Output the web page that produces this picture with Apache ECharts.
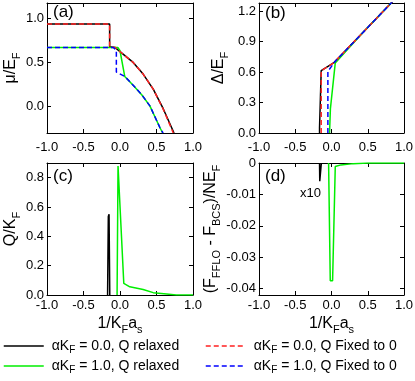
<!DOCTYPE html>
<html>
<head>
<meta charset="utf-8">
<script src="https://cdn.jsdelivr.net/npm/echarts@6/dist/echarts.min.js"></script>
<style>
  html, body { margin: 0; padding: 0; background: #fff; }
  #chart { width: 415px; height: 381px; }
</style>
</head>
<body>
<div id="chart"></div>
<script>
// tick values
const xTicks = [-1, -0.5, 0, 0.5, 1];
const muTicks = [0, 0.5, 1];
const gapTicks = [0, 0.3, 0.6, 0.9, 1.2];
const qTicks = [0, 0.2, 0.4, 0.6, 0.8];
const freeTicks = [0, -0.01, -0.02, -0.03, -0.04];

// (a) chemical potential mu/E_F
const muA0Relaxed = [[-1, 0.932], [-0.142, 0.932], [-0.142, 0.675], [-0.07, 0.668], [0.042, 0.592], [0.18, 0.498], [0.317, 0.366], [0.455, 0.196], [0.592, -0.025], [0.74, -0.3]];
const muA1Relaxed = [[-1, 0.668], [-0.03, 0.668], [0.0, 0.63], [0.065, 0.34], [0.18, 0.241], [0.3, 0.13], [0.409, 0.007], [0.546, -0.238], [0.585, -0.3]];
const muA0Fixed = [[-1, 0.932], [-0.142, 0.932], [-0.142, 0.675], [-0.07, 0.668], [0.042, 0.592], [0.18, 0.498], [0.317, 0.366], [0.455, 0.196], [0.592, -0.03], [0.73, -0.3]];
const muA1Fixed = [[-1, 0.668], [-0.09, 0.668], [-0.05, 0.63], [-0.05, 0.39], [0.065, 0.34], [0.18, 0.241], [0.3, 0.13], [0.409, 0.007], [0.546, -0.238], [0.59, -0.3]];

// (b) gap Delta/E_F
const gapA0Relaxed = [[-0.165, 0], [-0.165, 0.055], [-0.142, 0.055], [-0.142, 0.614], [0.029, 0.69], [0.43, 0.987], [0.85, 1.3]];
const gapA1Relaxed = [[-0.027, 0], [-0.015, 0.24], [0.052, 0.69], [0.43, 0.987], [0.85, 1.3]];
const gapA0Fixed = [[-0.142, 0], [-0.142, 0.614], [0.029, 0.69], [0.43, 0.987], [0.85, 1.3]];
const gapA1Fixed = [[-0.05, 0], [-0.05, 0.607], [0.052, 0.706], [0.43, 0.987], [0.85, 1.3]];

// (c) FFLO momentum Q/K_F
const qA0Relaxed = [[-0.17, 0], [-0.16, 0.535], [-0.15, 0.55], [-0.14, 0]];
const qA1Relaxed = [[-0.04, 0], [-0.027, 0.88], [-0.003, 0.88], [0.052, 0.079], [0.134, 0.056], [0.317, 0.038], [0.455, 0.016], [0.638, 0.007], [0.77, 0], [1.0, 0]];

// (d) free energy difference (black one is x10)
const freeA0Relaxed = [[-0.165, 0], [-0.162, -0.0058], [-0.142, -0.0058], [-0.14, 0]];
const freeA1Relaxed = [[-0.04, 0], [-0.017, -0.0375], [0.015, -0.0375], [0.052, -0.0011], [0.13, -0.0006], [0.3, -0.0002], [0.5, 0], [1.0, 0]];

const FONT = '"Liberation Sans", Arial, sans-serif';
const legendText = {
    a0r: '{n|αK}{s|F}{n| = 0.0, Q relaxed}',
    a1r: '{n|αK}{s|F}{n| = 1.0, Q relaxed}',
    a0f: '{n|αK}{s|F}{n| = 0.0, Q Fixed to 0}',
    a1f: '{n|αK}{s|F}{n| = 1.0, Q Fixed to 0}'
};

const chart = echarts.init(document.getElementById('chart'));

const nameRich = {
    n: { fontSize: 16, fontFamily: FONT, color: '#000', lineHeight: 22 },
    s: { fontSize: 11, fontFamily: FONT, color: '#000', lineHeight: 22, verticalAlign: 'bottom' }
};

const grids = [
    { left: 47, top: 3, width: 146, height: 130 },
    { left: 259, top: 3, width: 145, height: 130 },
    { left: 47, top: 163, width: 146, height: 132 },
    { left: 259, top: 163, width: 145, height: 132 }
];

const fmt1 = v => v.toFixed(1);
const fmtFree = v => (v === 0 ? '0' : v.toFixed(2));

// bottom + top (mirror) x axes per grid
const makeX = (gi, name, margin) => {
    const base = {
        type: 'value', gridIndex: gi, min: -1, max: 1,
        splitLine: { show: false },
        axisLine: { onZero: false, lineStyle: { color: '#000', width: 1 } },
        axisTick: { inside: true, length: 4, customValues: xTicks, lineStyle: { color: '#000' } }
    };
    return [
        Object.assign({}, base, {
            position: 'bottom',
            axisLabel: { customValues: xTicks, formatter: fmt1, color: '#000', fontSize: 13, fontFamily: FONT, margin: margin },
            name: name || '', nameLocation: 'middle', nameGap: 18,
            nameTextStyle: { rich: nameRich }
        }),
        Object.assign({}, base, { position: 'top', axisLabel: { show: false } })
    ];
};

const makeY = (gi, min, max, ticks, fmt, name, gap) => {
    const base = {
        type: 'value', gridIndex: gi, min: min, max: max,
        splitLine: { show: false },
        axisLine: { show: true, onZero: false, lineStyle: { color: '#000', width: 1 } },
        axisTick: { show: true, inside: true, length: 4, customValues: ticks, lineStyle: { color: '#000' } }
    };
    return [
        Object.assign({}, base, {
            position: 'left',
            axisLabel: { customValues: ticks, formatter: fmt, color: '#000', fontSize: 13, fontFamily: FONT, margin: 3 },
            name: name, nameLocation: 'middle', nameGap: gap,
            nameTextStyle: { rich: nameRich }
        }),
        Object.assign({}, base, { position: 'right', axisLabel: { show: false } })
    ];
};

const colors = { a0r: '#000000', a1r: '#00ee00', a0f: '#ff2020', a1f: '#0000ff' };
const line = (key, gi, data) => ({
    name: key, type: 'line', xAxisIndex: gi * 2, yAxisIndex: gi * 2,
    data: data, symbol: 'none', silent: true,
    lineStyle: { color: colors[key], width: 1.5, type: key.endsWith('f') ? [5, 3] : 'solid' },
    itemStyle: { color: colors[key] }
});

const legendBase = {
    orient: 'vertical', itemWidth: 40, itemHeight: 14, itemGap: 4,
    height: 44, padding: 0,
    formatter: n => legendText[n],
    itemStyle: { opacity: 0 },
    lineStyle: { width: 1.5 },
    textStyle: {
        padding: [0, 0, 0, 3],
        rich: {
            n: { fontSize: 14, fontFamily: FONT, color: '#000', lineHeight: 18 },
            s: { fontSize: 10, fontFamily: FONT, color: '#000', lineHeight: 18, verticalAlign: 'bottom' }
        }
    },
    selectedMode: false
};

const option = {
    animation: false,
    backgroundColor: '#fff',
    grid: grids.map(g => Object.assign({ outerBoundsMode: 'none', containLabel: false }, g)),
    xAxis: [].concat(makeX(0, '', 8), makeX(1, '', 8), makeX(2, '{n|1/K}{s|F}{n|a}{s|s}', 4), makeX(3, '{n|1/K}{s|F}{n|a}{s|s}', 4)),
    yAxis: [].concat(
        makeY(0, -0.3, 1.17, muTicks, fmt1, '{n|μ/E}{s|F}', 25),
        makeY(1, 0, 1.28, gapTicks, fmt1, '{n|Δ/E}{s|F}', 29),
        makeY(2, 0, 0.9, qTicks, fmt1, '{n|Q/K}{s|F}', 24),
        makeY(3, -0.042, 0, freeTicks, fmtFree, '{n|(F}{s|FFLO}{n| - F}{s|BCS}{n|)/NE}{s|F}', 37)
    ),
    legend: [
        Object.assign({}, legendBase, { left: 3, top: 339, data: ['a0r', 'a1r'] }),
        Object.assign({}, legendBase, { left: 205, top: 339, data: ['a0f', 'a1f'] })
    ],
    graphic: [
        { type: 'text', left: 53, top: 4, style: { text: '(a)', fontSize: 17, fontFamily: FONT, fill: '#000' } },
        { type: 'text', left: 265, top: 5, style: { text: '(b)', fontSize: 17, fontFamily: FONT, fill: '#000' } },
        { type: 'text', left: 53, top: 168, style: { text: '(c)', fontSize: 17, fontFamily: FONT, fill: '#000' } },
        { type: 'text', left: 265, top: 168, style: { text: '(d)', fontSize: 17, fontFamily: FONT, fill: '#000' } },
        { type: 'text', left: 300, top: 187, style: { text: 'x10', fontSize: 13, fontFamily: FONT, fill: '#000' } }
    ],
    series: [
        line('a0r', 0, muA0Relaxed), line('a1r', 0, muA1Relaxed), line('a0f', 0, muA0Fixed), line('a1f', 0, muA1Fixed),
        line('a0r', 1, gapA0Relaxed), line('a1r', 1, gapA1Relaxed), line('a0f', 1, gapA0Fixed), line('a1f', 1, gapA1Fixed),
        line('a0r', 2, qA0Relaxed), line('a1r', 2, qA1Relaxed),
        line('a0r', 3, freeA0Relaxed), line('a1r', 3, freeA1Relaxed)
    ]
};

chart.setOption(option);
</script>
</body>
</html>
